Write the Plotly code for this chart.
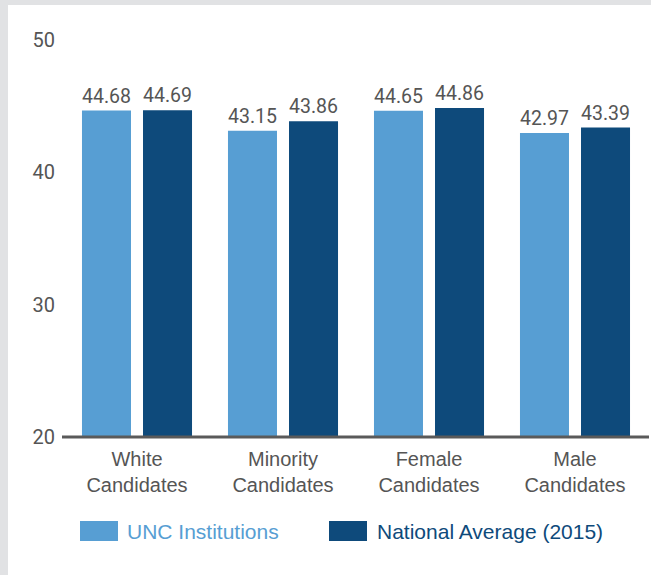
import plotly.graph_objects as go

categories = ["White<br>Candidates", "Minority<br>Candidates", "Female<br>Candidates", "Male<br>Candidates"]
unc_values = [44.68, 43.15, 44.65, 42.97]
national_values = [44.69, 43.86, 44.86, 43.39]
series_names = ["UNC Institutions", "National Average (2015)"]
y_ticks = [20, 30, 40, 50]

LIGHT = "#579ed3"
DARK = "#0e4a7b"
TXT = "#555555"
W, H = 651, 575
ML, MR, MT, MB = 64, 3, 40, 138
PW, PH = W - ML - MR, H - MT - MB

def px(x):
    return (x - ML) / PW

def py(y):
    return (H - MB - y) / PH

fig = go.Figure()
for name, vals, col in [(series_names[0], unc_values, LIGHT), (series_names[1], national_values, DARK)]:
    fig.add_trace(go.Bar(
        x=categories, y=vals, name=name, marker=dict(color=col, line=dict(width=0)),
        text=[f"{v:.2f}" for v in vals], textposition="outside", cliponaxis=False,
        textfont=dict(family="Roboto", size=20, color=TXT),
        showlegend=False,
    ))

shapes = [
    # gray frame strips
    dict(type="rect", xref="paper", yref="paper", x0=px(0), x1=px(8), y0=py(0), y1=py(H),
         fillcolor="#e1e2e4", line=dict(width=0), layer="below"),
    dict(type="rect", xref="paper", yref="paper", x0=px(0), x1=px(W), y0=py(0), y1=py(5),
         fillcolor="#e1e2e4", line=dict(width=0), layer="below"),
    # legend swatches
    dict(type="rect", xref="paper", yref="paper", x0=px(80), x1=px(118), y0=py(541), y1=py(521),
         fillcolor=LIGHT, line=dict(width=0)),
    dict(type="rect", xref="paper", yref="paper", x0=px(329), x1=px(367), y0=py(541), y1=py(521),
         fillcolor=DARK, line=dict(width=0)),
    # baseline
    dict(type="line", xref="paper", yref="paper", x0=px(62), x1=px(649), y0=py(437), y1=py(437),
         line=dict(color="#5a5a5a", width=3)),
]
annotations = [
    dict(text=series_names[0], xref="paper", yref="paper", x=px(125), y=py(531), xanchor="left",
         yanchor="middle", showarrow=False, font=dict(family="Liberation Sans", size=21, color=LIGHT)),
    dict(text=series_names[1], xref="paper", yref="paper", x=px(375), y=py(531), xanchor="left",
         yanchor="middle", showarrow=False, font=dict(family="Liberation Sans", size=21, color=DARK)),
]

fig.update_layout(
    width=W, height=H,
    margin=dict(l=ML, r=MR, t=MT, b=MB, pad=0),
    paper_bgcolor="white", plot_bgcolor="white",
    barmode="group", bargap=0.164, bargroupgap=0.197,
    shapes=shapes, annotations=annotations,
    xaxis=dict(showgrid=False, showline=False, ticks="", tickangle=0, ticklabelstandoff=8,
               tickfont=dict(family="Liberation Sans", size=20, color=TXT)),
    yaxis=dict(range=[20, 50], tickvals=y_ticks, showgrid=False, zeroline=False, showline=False,
               ticks="", ticklabelstandoff=8,
               tickfont=dict(family="Roboto", size=20, color=TXT)),
)

fig.write_html("out.html")
